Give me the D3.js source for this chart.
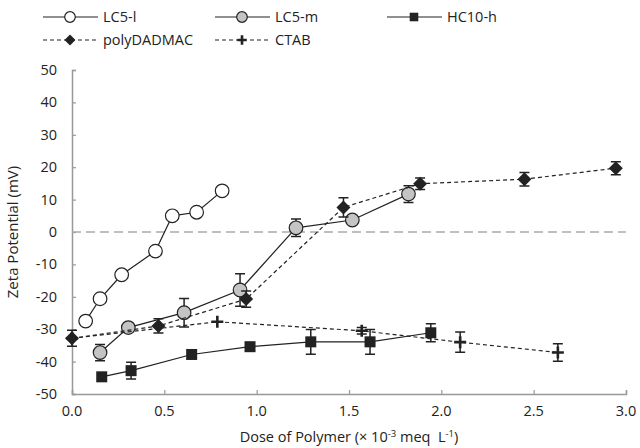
<!DOCTYPE html>
<html lang="en">
<head>
    <meta charset="UTF-8">
    <title>Zeta potential</title>
    <script src="https://cdn.jsdelivr.net/npm/d3@7"></script>
    <style>
        body { margin: 0; background: #fff; }
        text { font-family: "Open Sans", "Noto Sans", sans-serif; fill: #222; }
    </style>
</head>
<body>
    <script>
        // data: [dose, zeta, error]
        let lc5l = [[0.074, -27.5, 0], [0.152, -20.6, 0], [0.269, -13.2, 0], [0.452, -5.9, 0],
                    [0.543, 5.0, 0], [0.675, 6.1, 0], [0.813, 12.7, 0]];
        let lc5m = [[0.152, -37.2, 2.5], [0.305, -29.5, 1], [0.607, -24.9, 4.4], [0.910, -17.9, 5.0],
                    [1.213, 1.3, 2.7], [1.518, 3.7, 0], [1.822, 11.7, 2.6]];
        let hc10h = [[0.161, -44.7, 0], [0.320, -42.8, 2.6], [0.648, -37.8, 0], [0.964, -35.4, 0],
                     [1.293, -33.9, 3.8], [1.614, -33.9, 3.8], [1.943, -31.1, 2.8]];
        let polyDADMAC = [[0, -32.8, 2.5], [0.468, -29.0, 2.2], [0.943, -20.7, 2.5], [1.470, 7.6, 3.0],
                          [1.885, 14.9, 1.8], [2.450, 16.3, 2.1], [2.945, 19.7, 2.0]];
        let ctab = [[0, -32.8, 0], [0.787, -27.7, 0], [1.569, -30.5, 1], [2.102, -34.0, 3.1], [2.631, -37.2, 2.7]];
        let xTicks = [0, 0.5, 1, 1.5, 2, 2.5, 3];
        let yTicks = [50, 40, 30, 20, 10, 0, -10, -20, -30, -40, -50];

        let series = [
            { name: 'LC5-l', data: lc5l, dash: null, marker: 'circle', fill: '#fff' },
            { name: 'LC5-m', data: lc5m, dash: null, marker: 'circle', fill: '#c4c4c4' },
            { name: 'HC10-h', data: hc10h, dash: null, marker: 'square', fill: '#222' },
            { name: 'polyDADMAC', data: polyDADMAC, dash: '4,3', marker: 'diamond', fill: '#222' },
            { name: 'CTAB', data: ctab, dash: '4,3', marker: 'plus', fill: '#222' }
        ];

        let width = 640, height = 448;
        let padding = { top: 70, left: 72, bottom: 54, right: 14 };
        let svg = d3.select('body').append('svg').attr('width', width).attr('height', height);

        let x = d3.scaleLinear().domain([0, 3]).range([padding.left, width - padding.right]);
        let y = d3.scaleLinear().domain([-50, 50]).range([height - padding.bottom, padding.top]);

        // axes
        let xAxis = svg.append('g').attr('transform', `translate(0,${y(-50)})`)
            .call(d3.axisTop(x).tickValues(xTicks).tickSize(4).tickFormat(''));
        let yAxis = svg.append('g').attr('transform', `translate(${x(0)},0)`)
            .call(d3.axisRight(y).tickValues(yTicks).tickSize(4).tickFormat(''));
        [xAxis, yAxis].forEach(a => {
            a.select('.domain').attr('stroke', '#999').attr('stroke-width', 1.5);
            a.selectAll('.tick line').attr('stroke', '#999').attr('stroke-width', 1.2);
        });

        svg.selectAll('.xlab').data(xTicks).enter().append('text')
            .attr('x', d => x(d)).attr('y', y(-50) + 22)
            .attr('text-anchor', 'middle').attr('font-size', 14.5)
            .text(d => d3.format('.1f')(d));
        svg.selectAll('.ylab').data(yTicks).enter().append('text')
            .attr('x', x(0) - 15).attr('y', d => y(d)).attr('dy', '0.35em')
            .attr('text-anchor', 'end').attr('font-size', 14.5)
            .text(d => d);

        // zero line
        svg.append('line')
            .attr('x1', x(0)).attr('x2', x(3)).attr('y1', y(0)).attr('y2', y(0))
            .attr('stroke', '#aaa').attr('stroke-width', 1.3).attr('stroke-dasharray', '9,5');

        // titles
        let xt = svg.append('text').attr('x', 349).attr('y', 442)
            .attr('text-anchor', 'middle').attr('font-size', 14.5);
        xt.append('tspan').text('Dose of Polymer (× 10');
        xt.append('tspan').attr('font-size', 9.5).attr('dy', -5).text('-3');
        xt.append('tspan').attr('dy', 5).text(' meq\u00a0\u00a0L');
        xt.append('tspan').attr('font-size', 9.5).attr('dy', -5).text('-1');
        xt.append('tspan').attr('dy', 5).text(')');

        svg.append('text').attr('transform', `translate(18,${y(0)}) rotate(-90)`)
            .attr('text-anchor', 'middle').attr('font-size', 15)
            .text('Zeta Potential (mV)');

        function drawMarker(g, type, fill, s) {
            if (type === 'circle') {
                g.append('circle').attr('r', 6.8 * s).attr('fill', fill).attr('stroke', '#222').attr('stroke-width', 1.2);
            } else if (type === 'square') {
                g.append('rect').attr('x', -5.5 * s).attr('y', -5.5 * s).attr('width', 11 * s).attr('height', 11 * s)
                    .attr('fill', fill);
            } else if (type === 'diamond') {
                let r = 7 * s;
                g.append('path').attr('d', `M0,${-r}L${r},0L0,${r}L${-r},0Z`).attr('fill', fill);
            } else {
                let r = 6 * s;
                g.append('path').attr('d', `M${-r},0H${r}M0,${-r}V${r}`).attr('stroke', fill).attr('stroke-width', 2.6);
            }
        }

        let line = d3.line().x(d => x(d[0])).y(d => y(d[1]));

        series.forEach(s => {
            let g = svg.append('g');
            g.append('path').datum(s.data).attr('d', line)
                .attr('fill', 'none').attr('stroke', '#222').attr('stroke-width', 1.2)
                .attr('stroke-dasharray', s.dash);
            // error bars
            let eb = g.selectAll('.eb').data(s.data.filter(d => d[2] > 0)).enter().append('g');
            eb.append('path')
                .attr('d', d => `M${x(d[0])},${y(d[1] - d[2])}V${y(d[1] + d[2])}` +
                    `M${x(d[0]) - 5},${y(d[1] - d[2])}h10M${x(d[0]) - 5},${y(d[1] + d[2])}h10`)
                .attr('stroke', '#222').attr('stroke-width', 1.5).attr('fill', 'none');
            g.selectAll('.pt').data(s.data).enter().append('g')
                .attr('transform', d => `translate(${x(d[0])},${y(d[1])})`)
                .each(function () { drawMarker(d3.select(this), s.marker, s.fill, 1); });
        });

        // legend
        let legPos = [[43, 17], [215, 17], [387, 17], [43, 40], [215, 40]];
        series.forEach((s, i) => {
            let [lx, ly] = legPos[i];
            let g = svg.append('g').attr('transform', `translate(${lx},${ly})`);
            g.append('line').attr('x1', 0).attr('x2', 55).attr('y1', 0).attr('y2', 0)
                .attr('stroke', '#222').attr('stroke-width', 1.2).attr('stroke-dasharray', s.dash);
            let m = g.append('g').attr('transform', 'translate(27,0)');
            drawMarker(m, s.marker, s.fill, 0.78);
            g.append('text').attr('x', 60).attr('dy', '0.35em').attr('font-size', 14.5).text(s.name);
        });
    </script>
</body>
</html>
